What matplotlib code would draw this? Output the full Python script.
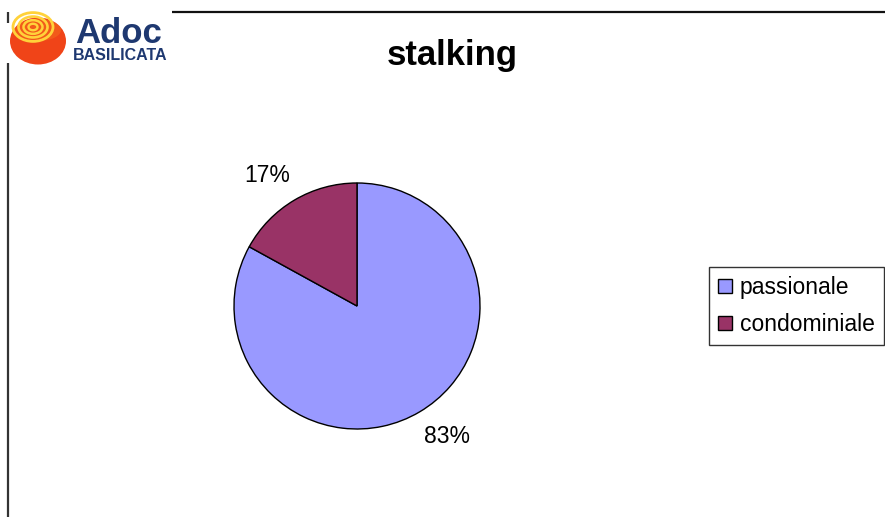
import matplotlib
matplotlib.use("Agg")
import numpy as np
import matplotlib.pyplot as plt
from matplotlib.patches import Rectangle, Ellipse, Patch

plt.rcParams['font.family'] = ['Liberation Sans', 'DejaVu Sans']

title = "stalking"
categories = ["passionale", "condominiale"]
values = [83, 17]
colors = ["#9999FF", "#993366"]

W, H = 885, 517
fig = plt.figure(figsize=(W / 100, H / 100), dpi=100)
ax = fig.add_axes([0, 0, 1, 1])

cx, cy = 357, H - 306
wedges, texts, autotexts = ax.pie(
    values, colors=colors, startangle=90, counterclock=False,
    center=(cx, cy), radius=123,
    wedgeprops=dict(edgecolor="black", linewidth=1.0),
    autopct="%.0f%%", pctdistance=1.29,
    textprops=dict(fontsize=16.5, color="black"),
)
# label placement offset (Excel-like): rotate label positions slightly counter-clockwise
rot = np.deg2rad(4)
for t in autotexts:
    x, y = t.get_position()
    dx, dy = x - cx, y - cy
    t.set_position((cx + dx * np.cos(rot) - dy * np.sin(rot),
                    cy + dx * np.sin(rot) + dy * np.cos(rot)))

ax.set_xlim(0, W)
ax.set_ylim(0, H)
ax.set_aspect("auto")
ax.axis("off")

# frame lines
ax.plot([7.5, 7.5], [0, H - 12], color="#333333", lw=1.6, solid_capstyle="butt")
ax.plot([172, W], [H - 12, H - 12], color="#111111", lw=1.6, solid_capstyle="butt")

# logo
ax.add_patch(Rectangle((4, H - 63), 168, 40, facecolor="white", edgecolor="none", zorder=3))
ax.add_patch(Ellipse((38, H - 41), 56, 47, facecolor="#f04418", edgecolor="none", zorder=4))
ax.add_patch(Ellipse((38, H - 30), 46, 22, facecolor="#f56a1c", edgecolor="none", zorder=4, alpha=0.6))
for r, lw in [(20, 2.0), (14.5, 1.9), (9.5, 1.8), (4.5, 1.7)]:
    ax.add_patch(Ellipse((33, H - 27), 2 * r, 2 * r * 0.72, facecolor="none",
                         edgecolor="#ffd23a", lw=lw, zorder=5))
ax.text(119, H - 43, "Adoc", fontsize=25, fontweight="bold", color="#1e3870",
        ha="center", va="baseline", zorder=6)
ax.text(120, H - 60, "BASILICATA", fontsize=11.5, fontweight="bold", color="#1e3870",
        ha="center", va="baseline", zorder=6)

# title
ax.text(452, H - 55, title, fontsize=25, fontweight="bold", ha="center", va="center")

handles = [Patch(facecolor=c, edgecolor="black", linewidth=1.0) for c in colors]
leg = fig.legend(handles, categories, loc="upper left",
                 bbox_to_anchor=(709 / W, 1 - 267 / H), borderaxespad=0,
                 fontsize=16.5, frameon=True, fancybox=False, edgecolor="black",
                 handlelength=0.6, handleheight=0.6, handletextpad=0.35,
                 labelspacing=0.6, borderpad=0.4)
leg.get_frame().set_linewidth(1.0)

fig.savefig("out.png", dpi=100)
